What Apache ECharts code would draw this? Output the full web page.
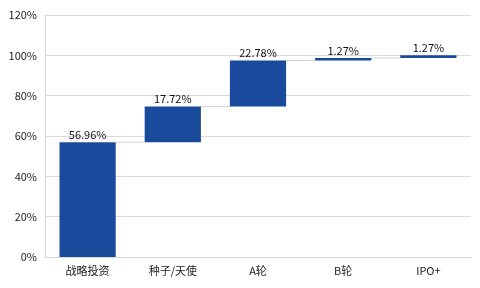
<!DOCTYPE html>
<html><head><meta charset="utf-8">
<script src="https://cdn.jsdelivr.net/npm/echarts@6/dist/echarts.min.js"></script>
<style>html,body{margin:0;padding:0;background:#fff}#c{width:480px;height:288px}</style>
</head><body><div id="c"></div>
<script>
var categories = ['战略投资', '种子/天使', 'A轮', 'B轮', 'IPO+'];
var values = [56.96, 17.72, 22.78, 1.27, 1.27];
var yTicks = [0, 20, 40, 60, 80, 100, 120];

var bases = [], tops = [], acc = 0;
for (var i = 0; i < values.length; i++) { bases.push(+acc.toFixed(2)); acc += values[i]; tops.push(+acc.toFixed(2)); }
var connectors = [];
for (var j = 0; j < values.length - 1; j++) connectors.push([j, tops[j]]);

var BAR_RATIO = 0.66;
var font = '"Noto Sans CJK SC", "Noto Sans", sans-serif';
var chart = echarts.init(document.getElementById('c'), null, {renderer: 'canvas'});
chart.setOption({
  animation: false,
  grid: {left: 45, right: 9, top: 15, bottom: 31},
  xAxis: {
    type: 'category', data: categories,
    axisLine: {lineStyle: {color: '#d9d9d9'}},
    axisTick: {show: false},
    axisLabel: {color: '#222', fontSize: 11, fontFamily: font, margin: 8}
  },
  yAxis: {
    type: 'value', min: 0, max: 120, interval: 20,
    axisLine: {show: true, lineStyle: {color: '#d9d9d9'}},
    axisTick: {show: false},
    splitLine: {lineStyle: {color: '#d9d9d9'}},
    axisLabel: {color: '#222', fontSize: 11, fontFamily: font, margin: 8,
      formatter: function (v) { return v + '%'; }}
  },
  series: [
    {type: 'bar', stack: 'w', data: bases, barWidth: (BAR_RATIO * 100) + '%',
     itemStyle: {color: 'transparent'}, silent: true},
    {type: 'bar', stack: 'w', data: values, barWidth: (BAR_RATIO * 100) + '%',
     itemStyle: {color: '#1A4A9C'},
     label: {show: true, position: 'top', distance: 2, color: '#111', fontSize: 11, fontFamily: font,
       formatter: function (p) { return values[p.dataIndex].toFixed(2) + '%'; }}},
    {type: 'custom', data: connectors, z: 1,
     renderItem: function (params, api) {
       var pt = api.coord([api.value(0), api.value(1)]);
       var band = api.size([1, 0])[0];
       var bw = band * BAR_RATIO;
       return {type: 'line', shape: {x1: pt[0] + bw / 2, y1: pt[1], x2: pt[0] + band - bw / 2, y2: pt[1]},
               style: {stroke: '#d0d0d0', lineWidth: 1}};
     }}
  ]
});
</script></body></html>
